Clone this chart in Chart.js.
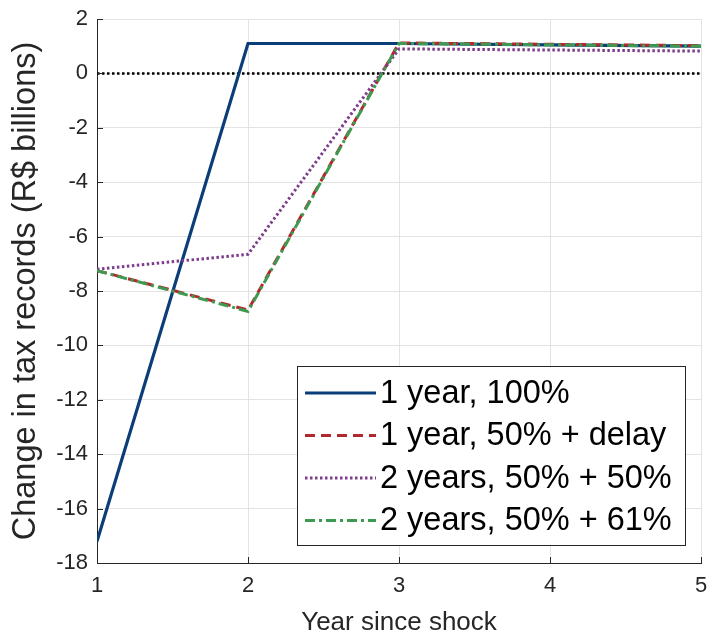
<!DOCTYPE html>
<html>
<head>
<meta charset="utf-8">
<script src="https://cdn.jsdelivr.net/npm/chart.js@4/dist/chart.umd.min.js"></script>
<style>
  html, body { margin: 0; padding: 0; background: #fff; }
  #wrap { width: 708px; height: 636px; }
</style>
</head>
<body>
<div id="wrap"><canvas id="c" width="708" height="636"></canvas></div>
<script>
// ---- data ----
const years = [1, 2, 3, 4, 5];
const seriesLabels = ['1 year, 100%', '1 year, 50% + delay', '2 years, 50% + 50%', '2 years, 50% + 61%'];
const oneYear100 = [-17.2, 1.1, 1.1, 1.05, 1.0];
const oneYear50Delay = [-7.25, -8.7, 1.12, 1.07, 1.02];
const twoYears5050 = [-7.2, -6.65, 0.9, 0.86, 0.82];
const twoYears5061 = [-7.25, -8.75, 1.1, 1.05, 1.0];
const zeroLine = [0, 0, 0, 0, 0];
const yTicks = [-18, -16, -14, -12, -10, -8, -6, -4, -2, 0, 2];
const xTicks = [1, 2, 3, 4, 5];

const FONT = '"Liberation Sans", Arial, Helvetica, sans-serif';
const pts = arr => arr.map((v, i) => ({ x: years[i], y: v }));

const inwardTicks = {
  id: 'inwardTicks',
  afterDatasetsDraw(chart) {
    const { ctx, chartArea: a, scales: { x, y } } = chart;
    ctx.save();
    ctx.strokeStyle = '#262626';
    ctx.lineWidth = 1;
    ctx.beginPath();
    yTicks.forEach(v => { const py = Math.round(y.getPixelForValue(v)) + 0.5; ctx.moveTo(a.left, py); ctx.lineTo(a.left + 6, py); });
    xTicks.forEach(v => { const px = Math.round(x.getPixelForValue(v)) + 0.5; ctx.moveTo(px, a.bottom); ctx.lineTo(px, a.bottom - 6); });
    ctx.stroke();
    ctx.restore();
  }
};

const boxLegend = {
  id: 'boxLegend',
  afterDraw(chart) {
    const { ctx, chartArea: a } = chart;
    const w = 388, h = 179;
    const right = a.right - 16, bottom = a.bottom - 18;
    const left = right - w, top = bottom - h;
    ctx.save();
    ctx.fillStyle = '#ffffff';
    ctx.fillRect(left, top, w, h);
    ctx.strokeStyle = '#262626';
    ctx.lineWidth = 1;
    ctx.strokeRect(Math.round(left) + 0.5, Math.round(top) + 0.5, w, h);
    const items = chart.data.datasets.filter(d => d.inLegend);
    items.forEach((d, i) => {
      const cy = top + 27 + i * 42.5;
      ctx.beginPath();
      ctx.setLineDash(d.borderDash || []);
      ctx.strokeStyle = d.borderColor;
      ctx.lineWidth = d.borderWidth;
      ctx.moveTo(left + 8, cy);
      ctx.lineTo(left + 79, cy);
      ctx.stroke();
      ctx.setLineDash([]);
      ctx.fillStyle = '#000000';
      ctx.font = '32.5px ' + FONT;
      ctx.textBaseline = 'middle';
      ctx.textAlign = 'left';
      ctx.fillText(d.label, left + 83, cy + 1);
    });
    ctx.restore();
  }
};

new Chart(document.getElementById('c'), {
  type: 'line',
  data: {
    datasets: [
      { label: 'zero', data: pts(zeroLine), borderColor: '#000000', borderWidth: 2.5, borderDash: [2.5, 2.5], order: 5, inLegend: false },
      { label: seriesLabels[0], data: pts(oneYear100), borderColor: '#0b3d78', borderWidth: 3.2, order: 4, inLegend: true },
      { label: seriesLabels[1], data: pts(oneYear50Delay), borderColor: '#b3282c', borderWidth: 3, borderDash: [10, 6], order: 3, inLegend: true },
      { label: seriesLabels[2], data: pts(twoYears5050), borderColor: '#7e3d8c', borderWidth: 3, borderDash: [2.5, 2.5], order: 2, inLegend: true },
      { label: seriesLabels[3], data: pts(twoYears5061), borderColor: '#3d9a50', borderWidth: 3, borderDash: [10, 4, 3, 4], order: 1, inLegend: true }
    ]
  },
  options: {
    responsive: false,
    animation: false,
    events: [],
    layout: { padding: { top: 19, right: 7, left: 0, bottom: 0 } },
    elements: { point: { radius: 0 }, line: { tension: 0, borderCapStyle: 'butt' } },
    plugins: { legend: { display: false }, tooltip: { enabled: false } },
    scales: {
      x: {
        type: 'linear', min: 1, max: 5,
        afterBuildTicks: s => { s.ticks = xTicks.map(v => ({ value: v })); },
        afterFit: s => { s.height = 73; s.paddingLeft = 0; s.paddingRight = 0; },
        grid: { color: '#e3e3e3', lineWidth: 1, drawTicks: false },
        border: { color: '#262626', width: 1 },
        ticks: { color: '#262626', font: { family: FONT, size: 22 }, padding: 10, maxRotation: 0 },
        title: { display: true, text: 'Year since shock', color: '#262626', font: { family: FONT, size: 26, lineHeight: 1 }, padding: { top: 0, bottom: 0 } }
      },
      y: {
        type: 'linear', min: -18, max: 2,
        afterBuildTicks: s => { s.ticks = yTicks.map(v => ({ value: v })); },
        afterFit: s => { s.width = 97; s.paddingTop = 0; s.paddingBottom = 0; },
        grid: { color: '#e3e3e3', lineWidth: 1, drawTicks: false },
        border: { color: '#262626', width: 1 },
        ticks: { color: '#262626', font: { family: FONT, size: 22 }, padding: 9 },
        title: { display: true, text: 'Change in tax records (R$ billions)', color: '#262626', font: { family: FONT, size: 32.5, lineHeight: 1.2 }, padding: { top: 7, bottom: 0 } }
      }
    }
  },
  plugins: [inwardTicks, boxLegend]
});
</script>
</body>
</html>
